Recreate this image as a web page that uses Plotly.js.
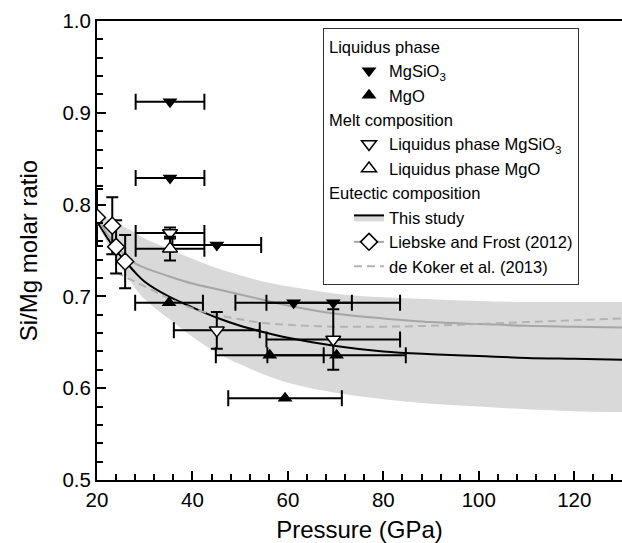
<!DOCTYPE html>
<html><head><meta charset="utf-8">
<script src="https://cdn.plot.ly/plotly-3.0.1.min.js"></script>
<style>html,body{margin:0;padding:0;background:#fff}#chart{width:622px;height:543px}</style>
</head><body><div id="chart"></div>
<script>
// ---- curves (Pressure in GPa, Si/Mg molar ratio) ----
const curvePressure = [20,22,24,26,28,30,35,40,45,50,55,60,70,80,90,100,110,120,130];
const thisStudy     = [0.782,0.765,0.750,0.738,0.726,0.716,0.700,0.688,0.677,0.668,0.661,0.655,0.646,0.640,0.637,0.635,0.633,0.632,0.631];
const bandUpper     = [0.790,0.785,0.780,0.775,0.769,0.763,0.752,0.741,0.731,0.723,0.716,0.711,0.703,0.699,0.697,0.695,0.694,0.694,0.694];
const bandLower     = [0.780,0.760,0.741,0.724,0.709,0.697,0.676,0.656,0.639,0.626,0.615,0.606,0.595,0.588,0.583,0.580,0.577,0.575,0.574];
const liebskeCurve  = [0.786,0.769,0.755,0.744,0.736,0.731,0.722,0.714,0.708,0.702,0.696,0.690,0.681,0.676,0.672,0.670,0.668,0.667,0.666];
const dekokerPressure = [24,26,28,30,35,40,45,50,55,60,70,80,90,100,110,120,130];
const dekokerCurve    = [0.727,0.721,0.716,0.711,0.698,0.687,0.680,0.675,0.671,0.669,0.667,0.667,0.668,0.670,0.672,0.674,0.676];

// ---- Liebske and Frost (2012) data ----
const lfP    = [20.0,23.2,24.0,25.9];
const lfR    = [0.786,0.777,0.754,0.738];
const lfRerr = [0.031,0.031,0.029,0.029];

// ---- Liquidus phase MgSiO3 (filled down triangles) ----
const liqSiP    = [35.3,35.3,45.1,61.2,69.5];
const liqSiR    = [0.912,0.829,0.756,0.693,0.693];
const liqSiPerr = [7.2,7.2,9.3,12.2,14.0];

// ---- Liquidus phase MgO (filled up triangles) ----
const liqMgP    = [35.1,56.2,70.2,59.4];
const liqMgR    = [0.693,0.636,0.636,0.589];
const liqMgPerr = [7.1,11.3,14.5,11.9];

// ---- Melt composition, liquidus MgSiO3 (open down triangles) ----
const meltSiP    = [35.3,45.1,69.5];
const meltSiR    = [0.769,0.663,0.653];
const meltSiPerr = [7.2,9.0,14.0];
const meltSiRerr = [0.006,0.020,0.033];

// ---- Melt composition, liquidus MgO (open up triangles) ----
const meltMgP    = [35.3];
const meltMgR    = [0.752];
const meltMgPerr = [7.2];
const meltMgRerr = [0.013];

const FONT = 'Liberation Sans, Arial, Helvetica, sans-serif';
const BAND = '#d9d9d9';

// diamonds with gaps so that the legend shows line + marker but no connecting lines
function withGaps(a){ const out=[]; a.forEach((v,i)=>{ if(i) out.push(null); out.push(v); }); return out; }

const errX = (arr)=>({type:'data', array:arr, visible:true, color:'#000', thickness:2, width:8});
const errY = (arr)=>({type:'data', array:arr, visible:true, color:'#000', thickness:2, width:6});

const traces = [
  {x:curvePressure, y:bandUpper, mode:'lines', line:{width:0, shape:'spline', color:BAND}, showlegend:false, hoverinfo:'skip', legendgroup:'eut'},
  {x:curvePressure, y:thisStudy, mode:'lines', fill:'tonexty', fillcolor:BAND, line:{width:2, color:'#000', shape:'spline'},
   name:'This study', legendgroup:'eut', legendrank:5, legendgrouptitle:{text:'Eutectic composition'}},
  {x:curvePressure, y:bandLower, mode:'lines', fill:'tonexty', fillcolor:BAND, line:{width:0, shape:'spline', color:BAND}, showlegend:false, hoverinfo:'skip', legendgroup:'eut'},
  {x:curvePressure, y:liebskeCurve, mode:'lines', line:{width:2, color:'#a6a6a6', shape:'spline'}, showlegend:false, legendgroup:'eut'},
  {x:dekokerPressure, y:dekokerCurve, mode:'lines', line:{width:2, color:'#b3b3b3', dash:'8px,5px', shape:'spline'},
   name:'de Koker et al. (2013)', legendgroup:'eut', legendrank:7},
  {x:withGaps(lfP), y:withGaps(lfR), mode:'lines+markers', connectgaps:false,
   line:{width:2, color:'#a6a6a6'},
   marker:{symbol:'diamond', size:13, color:'#fff', line:{color:'#000', width:1.5}},
   error_y:errY(withGaps(lfRerr)),
   name:'Liebske and Frost (2012)', legendgroup:'eut', legendrank:6},
  {x:liqSiP, y:liqSiR, mode:'markers', marker:{symbol:'triangle-down', size:13, color:'#000'},
   error_x:errX(liqSiPerr), name:'MgSiO<sub>3</sub>', legendgroup:'liq', legendrank:1,
   legendgrouptitle:{text:'Liquidus phase'}},
  {x:liqMgP, y:liqMgR, mode:'markers', marker:{symbol:'triangle-up', size:13, color:'#000'},
   error_x:errX(liqMgPerr), name:'MgO', legendgroup:'liq', legendrank:2},
  {x:meltSiP, y:meltSiR, mode:'markers', marker:{symbol:'triangle-down', size:13, color:'#fff', line:{color:'#000', width:1.5}},
   error_x:errX(meltSiPerr), error_y:errY(meltSiRerr), name:'Liquidus phase MgSiO<sub>3</sub>', legendgroup:'melt', legendrank:3,
   legendgrouptitle:{text:'Melt composition'}},
  {x:meltMgP, y:meltMgR, mode:'markers', marker:{symbol:'triangle-up', size:13, color:'#fff', line:{color:'#000', width:1.5}},
   error_x:errX(meltMgPerr), error_y:errY(meltMgRerr), name:'Liquidus phase MgO', legendgroup:'melt', legendrank:4}
];

const axisCommon = {
  showline:true, linecolor:'#000', linewidth:2, showgrid:false, zeroline:false,
  ticks:'inside', ticklen:9, tickwidth:2, tickcolor:'#000',
  tickfont:{family:FONT, size:20.5, color:'#000'}
};

const layout = {
  width:622, height:543,
  margin:{l:97, r:0, t:21, b:63},
  paper_bgcolor:'#fff', plot_bgcolor:'#fff',
  font:{family:FONT, color:'#000'},
  showlegend:true,
  legend:{
    x:0.4305, xanchor:'left', y:0.9847, yanchor:'top',
    bgcolor:'#fff', bordercolor:'#333', borderwidth:1,
    font:{family:FONT, size:16.5, color:'#000'},
    grouptitlefont:{family:FONT, size:16.5, color:'#000'},
    tracegroupgap:0, indentation:25, traceorder:'grouped'
  },
  xaxis:Object.assign({}, axisCommon, {
    range:[20,130], dtick:20, tick0:20, mirror:true,
    minor:{dtick:4, ticks:'inside', ticklen:6, tickwidth:2, tickcolor:'#000'},
    title:{text:'Pressure (GPa)', standoff:14, font:{family:FONT, size:24, color:'#000'}}
  }),
  yaxis:Object.assign({}, axisCommon, {
    range:[0.5,1.0], dtick:0.1, tick0:0.5, tickformat:'.1f',
    minor:{dtick:0.02, ticks:'inside', ticklen:6, tickwidth:2, tickcolor:'#000'},
    title:{text:'Si/Mg molar ratio', standoff:18, font:{family:FONT, size:24, color:'#000'}}
  })
};

Plotly.newPlot('chart', traces, layout, {displayModeBar:false, staticPlot:true});
</script>
</body></html>
